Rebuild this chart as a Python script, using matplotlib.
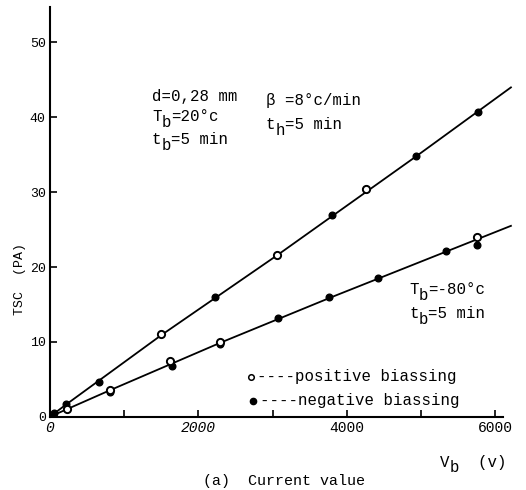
import matplotlib
matplotlib.use("Agg")
import matplotlib.pyplot as plt
from matplotlib.transforms import offset_copy

plt.rcParams['font.family'] = ['Liberation Mono', 'DejaVu Sans Mono']

# fitted curves (bias voltage V, TSC pA)
upper_line_v = [0, 200, 1500, 3065, 4935, 6210]
upper_line_i = [0, 1.5, 10.9, 21.6, 34.8, 44.0]
lower_line_v = [0, 800, 2300, 3800, 6210]
lower_line_i = [0, 3.5, 9.9, 16.0, 25.5]

# positive biassing (open circles)
pos_v = [1500, 3065, 4255, 235, 812, 1617, 2292, 5748]
pos_i = [11.0, 21.6, 30.4, 1.0, 3.6, 7.45, 10.0, 24.0]

# negative biassing (filled circles)
neg_v = [60, 210, 655, 2225, 3795, 4255, 4935, 5765,
         812, 1640, 2292, 3076, 3765, 4423, 5336, 5748]
neg_i = [0.5, 1.7, 4.7, 16.0, 27.0, 30.4, 34.8, 40.7,
         3.3, 6.8, 9.7, 13.2, 16.0, 18.5, 22.1, 22.9]

fig = plt.figure(figsize=(5.26, 4.90), dpi=100)
ax = fig.add_axes([0.095, 0.1496, 0.882, 0.837])

ax.plot(upper_line_v, upper_line_i, color='black', lw=1.3)
ax.plot(lower_line_v, lower_line_i, color='black', lw=1.3)
ax.plot(neg_v, neg_i, 'o', color='black', ms=4.8, zorder=3)
ax.plot(pos_v, pos_i, 'o', mfc='white', mec='black', mew=1.4, ms=5.2, zorder=4)

ax.set_xlim(0, 6250)
ax.set_ylim(0, 54.8)
for s in ['top', 'right']:
    ax.spines[s].set_visible(False)
ax.spines['left'].set_linewidth(1.5)
ax.spines['bottom'].set_linewidth(1.5)
ax.spines['bottom'].set_bounds(0, 6100)

ax.set_yticks([0, 10, 20, 30, 40, 50])
ax.set_xticks([0, 2000, 4000, 6000])
ax.set_xticks([1000, 3000, 5000], minor=True)
ax.tick_params(axis='both', which='both', direction='in', length=5, width=1.2)
ax.tick_params(axis='y', labelsize=9.5, pad=3)
ax.tick_params(axis='x', labelsize=10.5, pad=3)
for lab in ax.get_xticklabels()[:2]:
    lab.set_style('italic')

fs = 11.3


def label(x, y, base, sub='', rest='', tr=ax.transAxes, size=fs):
    # typewriter style: the subscript letter takes a full cell, dropped below
    cw = 0.6 * size
    ax.text(x, y, base, transform=tr, fontsize=size, va='center', ha='left')
    if sub:
        t = offset_copy(tr, fig=fig, x=len(base) * cw, y=-0.38 * size,
                        units='points')
        ax.text(x, y, sub, transform=t, fontsize=size, va='center', ha='left')
        t = offset_copy(tr, fig=fig, x=(len(base) + 1) * cw, units='points')
        ax.text(x, y, rest, transform=t, fontsize=size, va='center', ha='left')


label(0.2198, 0.780, 'd=0,28 mm')
label(0.2198, 0.731, 'T', 'b', '=20°c')
label(0.2198, 0.675, 't', 'b', '=5 min')
label(0.4655, 0.772, 'β =8°c/min')
label(0.4655, 0.7115, 't', 'h', '=5 min')
label(0.775, 0.309, 'T', 'b', '=-80°c')
label(0.775, 0.2505, 't', 'b', '=5 min')

# key for the two bias directions
ax.plot([0.4325], [0.0976], 'o', mfc='white', mec='black', mew=1.1, ms=4,
        transform=ax.transAxes, clip_on=False)
ax.plot([0.438], [0.039], 'o', color='black', ms=4.5,
        transform=ax.transAxes, clip_on=False)
label(0.446, 0.0976, '----positive biassing')
label(0.452, 0.039, '----negative biassing')

fig.text(20 / 526, 1 - 279 / 490, 'TSC  (PA)', rotation=90,
         ha='center', va='center', fontsize=9.5)
label(440 / 526, 1 - 462 / 490, 'V', 'b', '  (v)', tr=fig.transFigure)
fig.text(203 / 526, 1 - 481 / 490, '(a)  Current value', ha='left',
         va='center', fontsize=10.8)

fig.savefig('out.png', dpi=100)
